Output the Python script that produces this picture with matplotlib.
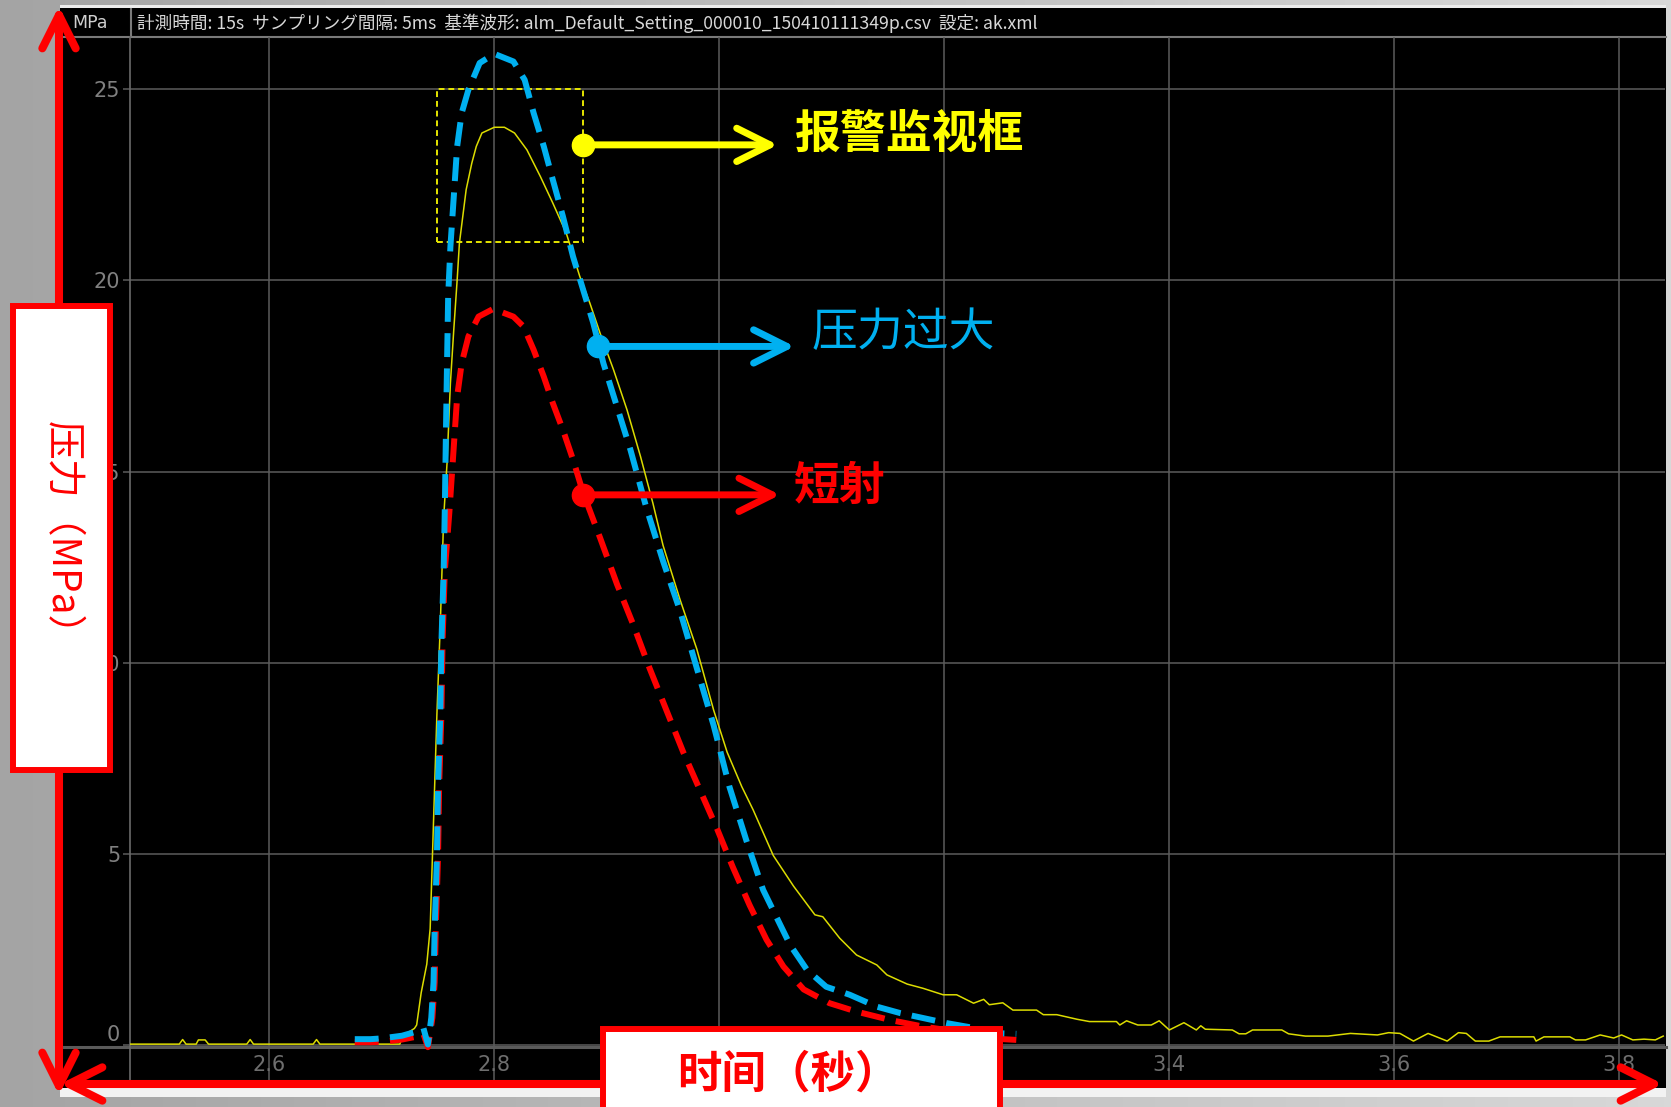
import numpy as np
import matplotlib
matplotlib.use('Agg')
import matplotlib.pyplot as plt
from matplotlib.patches import Rectangle, FancyArrowPatch
from matplotlib.colors import LinearSegmentedColormap

W, H = 1671, 1107

# reference waveform (yellow, thin)
ref_t = [2.476, 2.520, 2.523, 2.526, 2.535, 2.537, 2.543, 2.546, 2.580, 2.583,
         2.586, 2.639, 2.642, 2.645, 2.716, 2.719, 2.729, 2.731, 2.735, 2.740,
         2.743, 2.745, 2.747, 2.749, 2.752, 2.755, 2.758, 2.761, 2.764, 2.767,
         2.769, 2.772, 2.775, 2.780, 2.784, 2.789, 2.800, 2.809, 2.818, 2.829,
         2.841, 2.852, 2.864, 2.876, 2.885, 2.894, 2.906, 2.918, 2.930, 2.941,
         2.950, 2.965, 2.980, 2.995, 3.007, 3.020, 3.030, 3.048, 3.066, 3.085,
         3.092, 3.107, 3.122, 3.140, 3.149, 3.167, 3.181, 3.199, 3.211, 3.226,
         3.235, 3.240, 3.252, 3.261, 3.282, 3.288, 3.300, 3.318, 3.329, 3.353,
         3.356, 3.362, 3.372, 3.384, 3.391, 3.400, 3.413, 3.424, 3.428, 3.432,
         3.456, 3.462, 3.468, 3.474, 3.500, 3.506, 3.521, 3.541, 3.561, 3.585,
         3.595, 3.605, 3.617, 3.630, 3.647, 3.657, 3.664, 3.672, 3.684, 3.694,
         3.724, 3.726, 3.733, 3.756, 3.761, 3.770, 3.783, 3.795, 3.802, 3.812,
         3.822, 3.832, 3.839]
ref_p = [0.03, 0.03, 0.15, 0.03, 0.03, 0.14, 0.14, 0.03, 0.03, 0.15,
         0.03, 0.03, 0.15, 0.03, 0.03, 0.25, 0.44, 0.53, 1.37, 2.12,
         3.05, 4.92, 6.79, 8.66, 10.99, 13.79, 15.22, 17.31, 18.71, 20.01,
         20.97, 21.67, 22.37, 23.06, 23.50, 23.85, 24.00, 24.00, 23.85, 23.41,
         22.71, 22.02, 21.23, 20.10, 19.40, 18.62, 17.66, 16.61, 15.39, 14.17,
         13.07, 11.66, 10.36, 8.76, 7.66, 6.76, 6.16, 4.96, 4.16, 3.41,
         3.36, 2.80, 2.36, 2.10, 1.84, 1.60, 1.49, 1.32, 1.32, 1.10,
         1.20, 1.06, 1.11, 0.92, 0.92, 0.80, 0.80, 0.68, 0.62, 0.62,
         0.53, 0.64, 0.53, 0.53, 0.64, 0.40, 0.59, 0.40, 0.51, 0.42,
         0.40, 0.30, 0.30, 0.40, 0.40, 0.30, 0.24, 0.24, 0.31, 0.27,
         0.33, 0.31, 0.11, 0.31, 0.11, 0.33, 0.31, 0.11, 0.11, 0.22,
         0.22, 0.11, 0.22, 0.22, 0.14, 0.14, 0.27, 0.19, 0.27, 0.14,
         0.16, 0.14, 0.24]

# 压力过大 (blue dashed)
over_t = [2.676, 2.690, 2.700, 2.718, 2.730, 2.737, 2.741, 2.744, 2.746, 2.747,
          2.749, 2.750, 2.752, 2.753, 2.755, 2.756, 2.757, 2.758, 2.759, 2.761,
          2.764, 2.767, 2.771, 2.777, 2.787, 2.800, 2.817, 2.827, 2.835, 2.844,
          2.852, 2.861, 2.870, 2.879, 2.888, 2.897, 2.909, 2.921, 2.935, 2.950,
          2.965, 2.980, 2.995, 3.009, 3.024, 3.039, 3.054, 3.063, 3.078, 3.095,
          3.116, 3.140, 3.161, 3.202, 3.229, 3.252, 3.264]
over_p = [0.16, 0.16, 0.18, 0.25, 0.35, 0.45, 0.02, 0.72, 1.65, 3.05,
          4.92, 6.79, 8.66, 10.52, 12.39, 14.00, 16.00, 17.83, 19.58, 20.88,
          22.19, 23.50, 24.37, 24.98, 25.68, 25.92, 25.72, 25.24, 24.37, 23.50,
          22.63, 21.67, 20.62, 19.75, 18.88, 17.83, 16.70, 15.57, 14.07, 12.66,
          11.37, 9.86, 8.36, 6.76, 5.36, 4.06, 3.16, 2.62, 1.97, 1.53,
          1.32, 1.01, 0.84, 0.58, 0.44, 0.31, 0.30]

# 短射 (red dashed)
short_t = [2.676, 2.690, 2.700, 2.718, 2.730, 2.737, 2.741, 2.745, 2.747, 2.748,
           2.750, 2.751, 2.753, 2.754, 2.756, 2.760, 2.764, 2.767, 2.771, 2.777,
           2.786, 2.799, 2.817, 2.826, 2.835, 2.844, 2.852, 2.861, 2.870, 2.879,
           2.894, 2.909, 2.924, 2.938, 2.953, 2.968, 2.983, 2.998, 3.012, 3.027,
           3.042, 3.057, 3.075, 3.098, 3.122, 3.152, 3.181, 3.211, 3.241, 3.264]
short_p = [0.08, 0.08, 0.09, 0.15, 0.22, 0.30, -0.05, 0.72, 1.65, 3.05,
           4.92, 6.79, 8.66, 10.52, 12.39, 13.91, 15.65, 16.96, 17.83, 18.53,
           19.05, 19.25, 19.05, 18.79, 18.18, 17.48, 16.79, 16.09, 15.31, 14.44,
           13.27, 12.06, 10.96, 9.86, 8.76, 7.66, 6.66, 5.66, 4.66, 3.66,
           2.76, 2.06, 1.46, 1.10, 0.88, 0.66, 0.49, 0.36, 0.18, 0.14]

x_ticks = [2.6, 2.8, 3.0, 3.2, 3.4, 3.6, 3.8]
# 3.0 and 3.2 sit under the x-label box in the original
x_tick_labels = ['2.6', '2.8', '', '', '3.4', '3.6', '3.8']
y_ticks = [0, 5, 10, 15, 20, 25]

alarm_t = (2.749, 2.879)
alarm_p = (21.0, 25.0)

header = ('計測時間: 15s  サンプリング間隔: 5ms  基準波形: '
          'alm_Default_Setting_000010_150410111349p.csv  設定: ak.xml')

narrow = ['Liberation Sans Narrow', 'DejaVu Sans']
cjk = ['Noto Sans CJK SC', 'DejaVu Sans']

fig = plt.figure(figsize=(W / 100, H / 100), dpi=100)

# background layer in pixel coords
bg = fig.add_axes([0, 0, 1, 1], zorder=0)
bg.set_xlim(0, W)
bg.set_ylim(H, 0)
bg.axis('off')
grad = np.linspace(0, 1, 256).reshape(1, -1)
bg.imshow(grad, cmap=LinearSegmentedColormap.from_list('g', ['#a4a4a4', '#d8d8d8']),
          extent=[0, W, H, 0], aspect='auto')
bg.add_patch(Rectangle((60, 5), 1606, 3, fc='#ececec', ec='none'))
bg.add_patch(Rectangle((60, 8), 1606, 1080, fc='black', ec='none'))
bg.add_patch(Rectangle((60, 1088), 1606, 9, fc='#f2f2f2', ec='none'))
bg.plot([62, 1666], [37, 37], color='#7a7a7a', lw=1.5)
bg.plot([131, 131], [9, 37], color='#7a7a7a', lw=1.5)
bg.plot([63, 1666], [1047, 1047], color='#5a5a5a', lw=2.2)
bg.text(72, 23, 'MPa', color='#cfcfcf', fontsize=12.5, va='center', family=narrow)
bg.text(137, 23, header, color='#d8d8d8', fontsize=12.7, va='center',
        family=['Noto Sans CJK JP', 'DejaVu Sans'])

# main chart
ax = fig.add_axes([130 / W, 1 - 1081 / H, (1665 - 130) / W, (1081 - 37) / H], zorder=1)
ax.set_facecolor('none')
ax.set_xlim(2.4762, 3.8406)
ax.set_ylim(-0.934, 26.36)
for s in ['top', 'right', 'bottom']:
    ax.spines[s].set_visible(False)
ax.spines['left'].set_color('#6a6a6a')
ax.spines['left'].set_linewidth(1.2)
ax.set_xticks(x_ticks, x_tick_labels)
ax.set_yticks(y_ticks)
ax.set_axisbelow(True)
ax.grid(True, color='#5c5c5c', lw=1.1)
ax.tick_params(axis='x', length=0, pad=-19, labelcolor='#6e6e6e', labelsize=15)
ax.tick_params(axis='y', length=5, width=1.1, color='#5c5c5c', pad=2,
               labelcolor='#808080', labelsize=15)
for lbl in ax.get_xticklabels() + ax.get_yticklabels():
    lbl.set_family(narrow)
ax.get_yticklabels()[0].set_verticalalignment('bottom')

ax.plot(ref_t, ref_p, color='#dcdc00', lw=1.1, zorder=3)
ax.plot(short_t, short_p, color='#ff0000', lw=4.3, ls=(0, (4, 1.9)), zorder=4)
ax.plot(over_t, over_p, color='#00b0f0', lw=4.3, ls=(0, (4, 1.9)), zorder=5)

ax.add_patch(Rectangle((alarm_t[0], alarm_p[0]), alarm_t[1] - alarm_t[0],
                       alarm_p[1] - alarm_p[0], fill=False, ec='#e6e600',
                       lw=1.4, ls=(0, (3, 2)), zorder=3))

# callouts: text, color, weight, dot, arrow tip x, text pos
callouts = [
    ('报警监视框', '#ffff00', 'bold', (2.879, 23.54), 3.052, (3.067, 23.80)),
    ('压力过大', '#00b0f0', 'normal', (2.892, 18.27), 3.067, (3.082, 18.63)),
    ('短射', '#ff0000', 'bold', (2.879, 14.39), 3.054, (3.066, 14.61)),
]
for text, color, weight, (dx, dy), tip, (tx, ty) in callouts:
    ax.annotate('', xy=(tip, dy), xytext=(dx, dy),
                arrowprops=dict(arrowstyle='->,head_length=0.6,head_width=0.3',
                                lw=5, color=color, shrinkA=0, shrinkB=0,
                                mutation_scale=40, capstyle='round',
                                joinstyle='round'), zorder=6)
    ax.plot(dx, dy, 'o', ms=16, color=color, zorder=7)
    ax.text(tx, ty, text, color=color, fontsize=33, fontweight=weight,
            va='center', ha='left', family=cjk, zorder=7)

# overlay: red axis arrows and label boxes
ov = fig.add_axes([0, 0, 1, 1], zorder=3)
ov.set_xlim(0, W)
ov.set_ylim(H, 0)
ov.axis('off')
ov.set_facecolor('none')
for p0, p1 in [((59, 1095), (59, 6)), ((60, 1084), (1663, 1084))]:
    ov.add_patch(FancyArrowPatch(p0, p1,
                                 arrowstyle='<->,head_length=0.6,head_width=0.3',
                                 mutation_scale=40, lw=5.8, color='#ff0000',
                                 capstyle='round', joinstyle='round',
                                 shrinkA=0, shrinkB=0, zorder=1))
ov.add_patch(Rectangle((13, 306), 97, 464, fc='white', ec='#ff0000', lw=4.3, zorder=2))
ov.text(61.5, 538, '压力（MPa）', color='#ff0000', fontsize=28, rotation=270,
        ha='center', va='center', family=cjk, zorder=3)
ov.add_patch(Rectangle((603, 1029), 397, 100, fc='white', ec='#ff0000', lw=4.3, zorder=2))
ov.text(788, 1075, '时间（秒）', color='#ff0000', fontsize=32, fontweight='bold',
        ha='center', va='center', family=cjk, zorder=3)

fig.savefig('out.png', dpi=100)
